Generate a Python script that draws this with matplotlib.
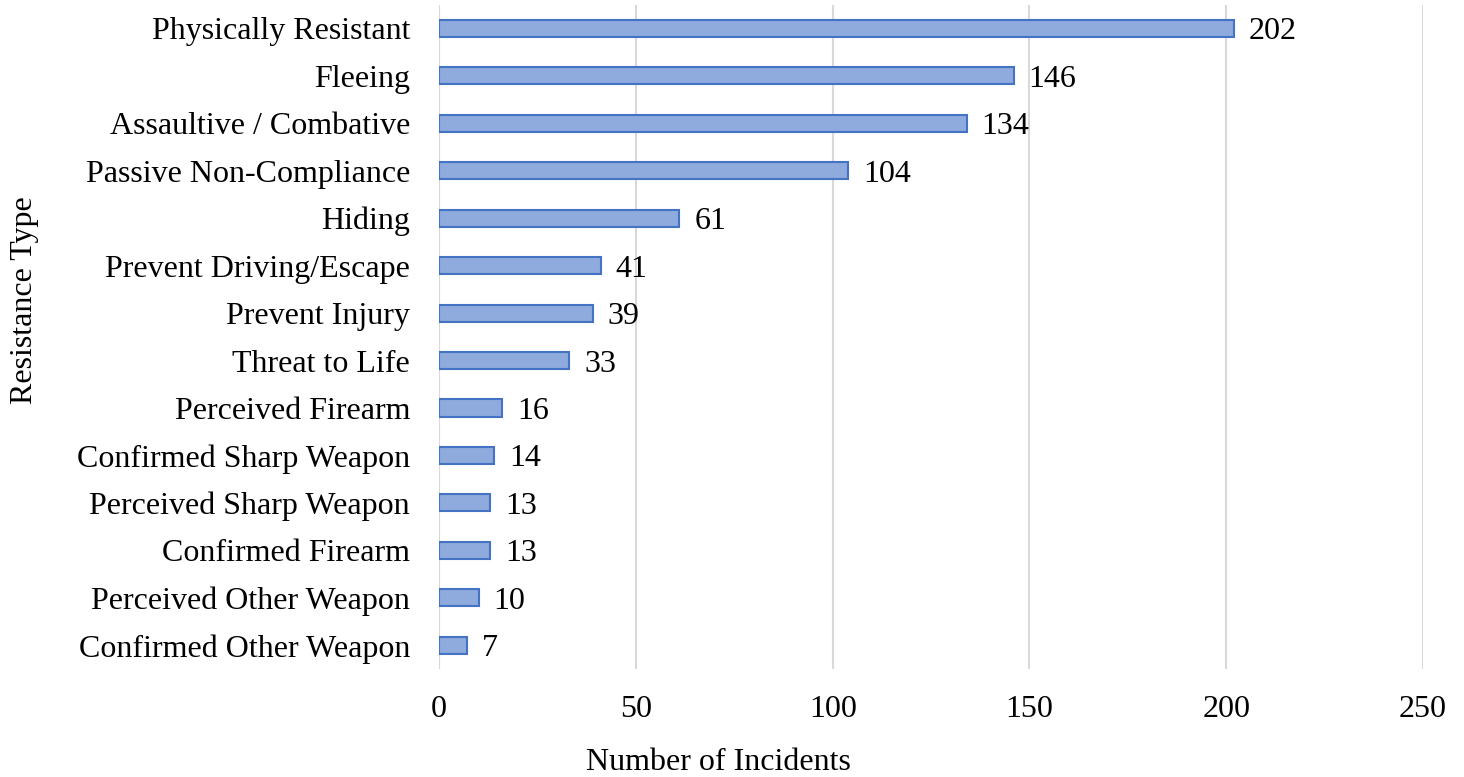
import numpy as np
import matplotlib.pyplot as plt

plt.rcParams['font.family'] = ['Liberation Serif', 'DejaVu Serif']

# Resistance types and incident counts
categories = [
    "Physically Resistant", "Fleeing", "Assaultive / Combative",
    "Passive Non-Compliance", "Hiding", "Prevent Driving/Escape",
    "Prevent Injury", "Threat to Life", "Perceived Firearm",
    "Confirmed Sharp Weapon", "Perceived Sharp Weapon", "Confirmed Firearm",
    "Perceived Other Weapon", "Confirmed Other Weapon",
]
counts = [202, 146, 134, 104, 61, 41, 39, 33, 16, 14, 13, 13, 10, 7]
x_ticks = [0, 50, 100, 150, 200, 250]

fs = 23

fig = plt.figure(figsize=(14.64, 7.77), dpi=100)
ax = fig.add_axes([0.300, 0.139, 0.672, 0.855])

y = np.arange(len(categories))
ax.barh(y, counts, height=0.36, color='#8faadc', edgecolor='#4472c4',
        linewidth=1.5, zorder=3)

for yi, c in zip(y, counts):
    ax.text(c + 3.8, yi, str(c), va='center_baseline', ha='left', fontsize=fs)

ax.set_xlim(0, 250)
ax.set_ylim(len(categories) - 0.5, -0.5)
ax.set_xticks(x_ticks)
ax.set_yticks(y)
ax.set_yticklabels(categories, va='center_baseline')
ax.tick_params(axis='both', length=0, labelsize=fs)
ax.tick_params(axis='y', pad=21)
ax.tick_params(axis='x', pad=19)

ax.xaxis.grid(True, color='#d9d9d9', linewidth=1.5, zorder=0)
for s in ax.spines.values():
    s.set_visible(False)
ax.axvline(0, color='#d9d9d9', linewidth=1.5, zorder=1)

# axis titles are centred on the whole chart area, not just the bars
ax.set_xlabel('Number of Incidents', fontsize=fs)
ax.xaxis.set_label_coords(0.2835, -0.119)
ax.set_ylabel('Resistance Type', fontsize=fs)
ax.yaxis.set_label_coords(-0.4065, 0.556)

fig.savefig('out.png', dpi=100)
